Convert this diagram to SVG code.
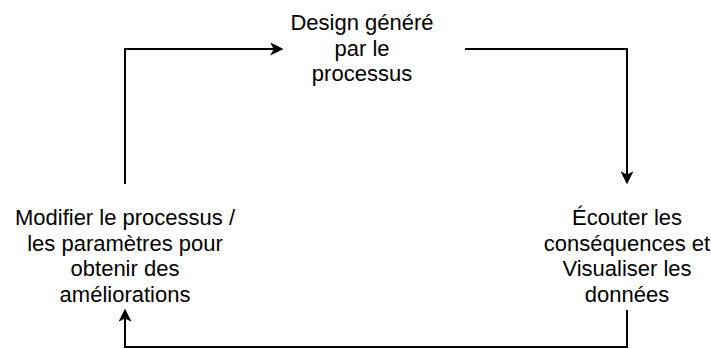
<svg xmlns="http://www.w3.org/2000/svg" width="711" height="349" viewBox="0 0 711 349">
<style>
.t{font-family:"Liberation Sans",Arial,sans-serif;font-size:22px;fill:#000;text-anchor:middle}
.c{fill:none;stroke:#000;stroke-width:2}
</style>
<defs>
<marker id="ah" viewBox="0 0 10 10" refX="9" refY="5" markerWidth="13" markerHeight="13" markerUnits="userSpaceOnUse" orient="auto">
<path d="M0,0 L10,5 L0,10 L2.5,5 Z" fill="#000"/>
</marker>
</defs>
<rect width="711" height="349" fill="#fff"/>
<g id="connectors">
<path class="c" d="M125,184 V49 H282" marker-end="url(#ah)"/>
<path class="c" d="M465,49 H627 V183" marker-end="url(#ah)"/>
<path class="c" d="M627,310 V347 H125 V310" marker-end="url(#ah)"/>
</g>
<g id="node-design">
<text class="t" x="362" y="30">Design généré</text>
<text class="t" x="362" y="55.5">par le</text>
<text class="t" x="362" y="81">processus</text>
</g>
<g id="node-ecouter">
<text class="t" x="627" y="225">Écouter les</text>
<text class="t" x="627" y="250.5">conséquences et</text>
<text class="t" x="627" y="276">Visualiser les</text>
<text class="t" x="627" y="301.5">données</text>
</g>
<g id="node-modifier">
<text class="t" x="125" y="225">Modifier le processus /</text>
<text class="t" x="125" y="250.5">les paramètres pour</text>
<text class="t" x="125" y="276">obtenir des</text>
<text class="t" x="125" y="301.5">améliorations</text>
</g>
</svg>
